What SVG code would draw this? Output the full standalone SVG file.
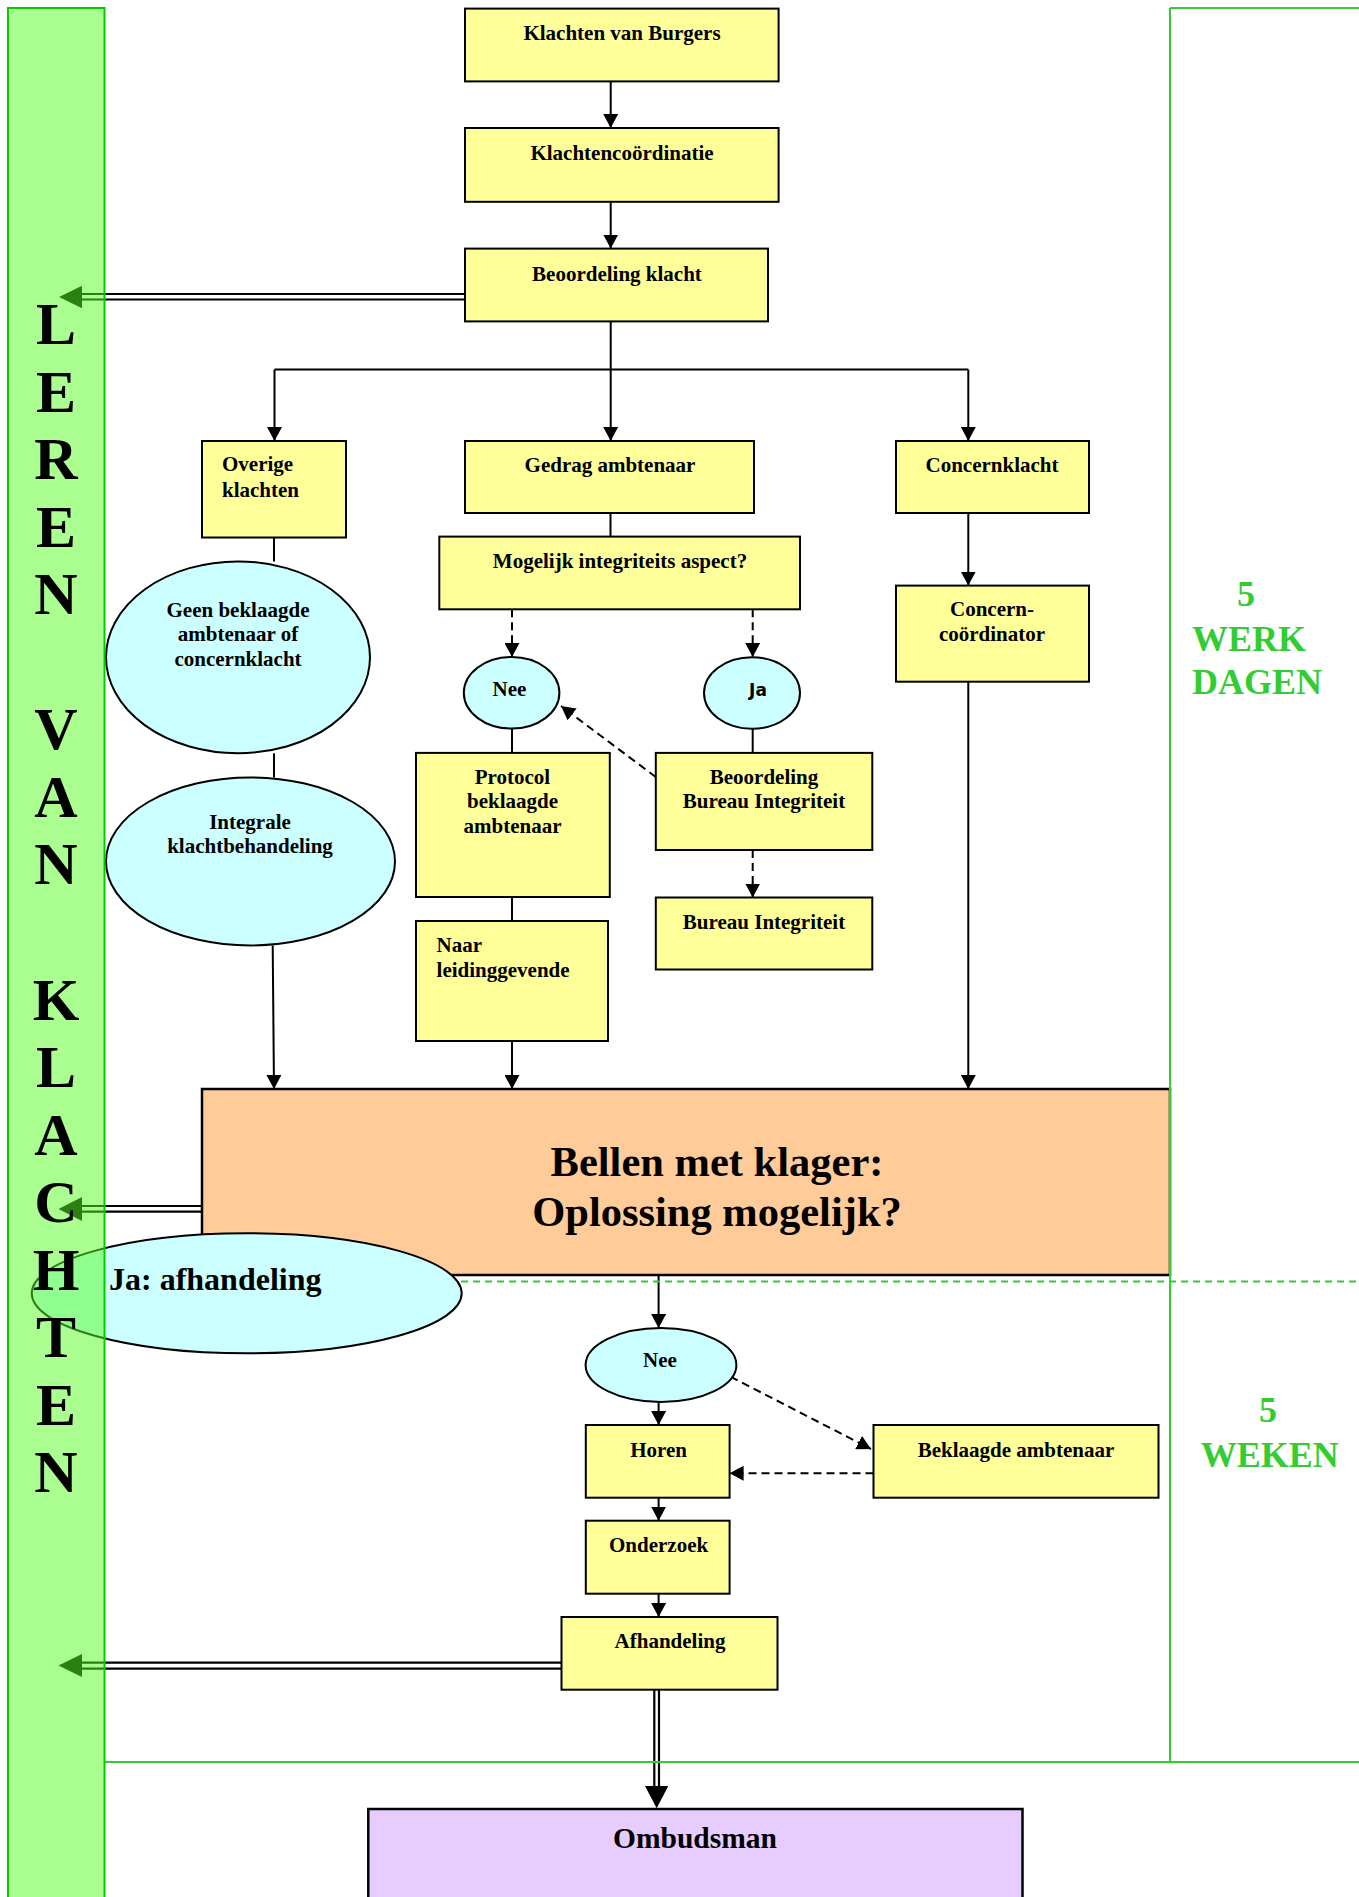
<svg xmlns="http://www.w3.org/2000/svg" width="1359" height="1897" viewBox="0 0 1359 1897">
<style>
.box{fill:#FFFF99;stroke:#000;stroke-width:2}
.ell{fill:#CCFFFF;stroke:#000;stroke-width:2}
.ln{fill:none;stroke:#000;stroke-width:2}
.dash{fill:none;stroke:#000;stroke-width:2;stroke-dasharray:8 5}
.dbl{fill:none;stroke:#000;stroke-width:2.2}
.t{font-family:"Liberation Serif","Times New Roman",serif;font-weight:bold;font-size:21px;fill:#000}
.c{text-anchor:middle}
.t38{font-size:42.5px}
.t32{font-size:32px}
.t28{font-size:29.5px}
.big{font-family:"Liberation Serif","Times New Roman",serif;font-weight:bold;font-size:60px;fill:#000;text-anchor:middle}
.grn{font-family:"Liberation Serif","Times New Roman",serif;font-weight:bold;font-size:36px;fill:#33CC33}
.frame{fill:none;stroke:#33CC33;stroke-width:2}
</style>
<defs>
<marker id="ah" markerUnits="userSpaceOnUse" markerWidth="15" markerHeight="15" refX="14" refY="7.5" orient="auto" viewBox="0 0 15 15"><path d="M0,0 L14,7.5 L0,15 z" fill="#000"/></marker>
</defs>
<rect width="1359" height="1897" fill="#fff"/>

<g id="connectors">
<path class="ln" d="M610.7,81.5 V128" marker-end="url(#ah)"/>
<path class="ln" d="M610.7,202 V248.6" marker-end="url(#ah)"/>
<path class="ln" d="M610.7,321.4 V441" marker-end="url(#ah)"/>
<path class="ln" d="M274.5,369.6 H968.3"/>
<path class="ln" d="M274.5,369.6 V441" marker-end="url(#ah)"/>
<path class="ln" d="M968.3,369.6 V441" marker-end="url(#ah)"/>
<path class="ln" d="M610.5,513 V536.6"/>
<path class="dash" d="M512,609.3 V657" marker-end="url(#ah)"/>
<path class="dash" d="M752.7,609.3 V657" marker-end="url(#ah)"/>
<path class="ln" d="M512,728.7 V752.9"/>
<path class="ln" d="M752.7,728.7 V752.9"/>
<path class="dash" d="M655.8,777 L561,706" marker-end="url(#ah)"/>
<path class="dash" d="M752.7,850 V897.5" marker-end="url(#ah)"/>
<path class="ln" d="M512,897 V921"/>
<path class="ln" d="M512,1041 V1089" marker-end="url(#ah)"/>
<path class="ln" d="M968.3,513 V585.6" marker-end="url(#ah)"/>
<path class="ln" d="M968.3,681.7 V1089" marker-end="url(#ah)"/>
<path class="ln" d="M274,537.5 V561.4"/>
<path class="ln" d="M274,753.2 V777.5"/>
<path class="ln" d="M272.7,945.4 L274,1089" marker-end="url(#ah)"/>
<path class="dbl" d="M465,294 H82 M465,299.5 H82"/>
<polygon points="59,297 82,285.7 82,308.3" fill="#000"/>
<path class="dbl" d="M202,1206 H82 M202,1211.7 H82"/>
<polygon points="58.5,1209 82,1197 82,1221" fill="#000"/>
<path class="dbl" d="M561.5,1662.7 H82 M561.5,1668.7 H82"/>
<polygon points="58.5,1665.5 82,1654 82,1677" fill="#000"/>
<path class="ln" d="M658.6,1275 V1328" marker-end="url(#ah)"/>
<path class="dash" d="M730.5,1376.7 L871,1449" marker-end="url(#ah)"/>
<path class="ln" d="M658.6,1401.7 V1425" marker-end="url(#ah)"/>
<path class="dash" d="M873.5,1473.3 H729.6" marker-end="url(#ah)"/>
<path class="ln" d="M658.6,1497.7 V1520.7" marker-end="url(#ah)"/>
<path class="ln" d="M658.6,1593.7 V1617" marker-end="url(#ah)"/>
<path class="dbl" d="M654.3,1690 V1787 M659,1690 V1787"/>
<polygon points="645,1786 668.3,1786 656.7,1808.3" fill="#000"/>
</g>

<g id="n-klachten"><rect class="box" x="465" y="8.6" width="313.6" height="72.8"/><text class="t c" x="622" y="40">Klachten van Burgers</text></g>
<g id="n-coord"><rect class="box" x="465" y="128" width="313.6" height="73.8"/><text class="t c" x="622" y="160">Klachtencoördinatie</text></g>
<g id="n-beoordeling"><rect class="box" x="465" y="248.6" width="303" height="72.8"/><text class="t c" x="617" y="281">Beoordeling klacht</text></g>
<g id="n-overige"><rect class="box" x="202" y="441" width="144" height="96.5"/><text class="t" x="222" y="471">Overige</text><text class="t" x="222" y="497">klachten</text></g>
<g id="n-gedrag"><rect class="box" x="465" y="441" width="289" height="72"/><text class="t c" x="610" y="472">Gedrag ambtenaar</text></g>
<g id="n-concern"><rect class="box" x="896" y="441" width="193" height="72"/><text class="t c" x="992" y="472">Concernklacht</text></g>
<g id="n-mogelijk"><rect class="box" x="439.3" y="536.6" width="360.7" height="72.7"/><text class="t c" x="620" y="568">Mogelijk integriteits aspect?</text></g>
<g id="n-nee1"><ellipse class="ell" cx="511.6" cy="692.8" rx="47.8" ry="35.8"/><text class="t c" x="509.5" y="696">Nee</text></g>
<g id="n-ja1"><ellipse class="ell" cx="752" cy="693" rx="48" ry="35.8"/><text x="758" y="696" text-anchor="middle" font-family="DejaVu Sans, sans-serif" font-weight="bold" font-size="17">Ja</text></g>
<g id="n-concerncoord"><rect class="box" x="896" y="585.6" width="193" height="96.1"/><text class="t c" x="992" y="616">Concern-</text><text class="t c" x="992" y="641">coördinator</text></g>
<g id="n-geen"><ellipse class="ell" cx="238" cy="657.3" rx="132" ry="95.9"/><text class="t c" x="238" y="617">Geen beklaagde</text><text class="t c" x="238" y="641">ambtenaar of</text><text class="t c" x="238" y="666">concernklacht</text></g>
<g id="n-protocol"><rect class="box" x="416" y="752.9" width="193.8" height="144.1"/><text class="t c" x="512.5" y="784">Protocol</text><text class="t c" x="512.5" y="808">beklaagde</text><text class="t c" x="512.5" y="832.5">ambtenaar</text></g>
<g id="n-beoordelingbi"><rect class="box" x="655.8" y="752.9" width="216.5" height="97.1"/><text class="t c" x="764" y="784">Beoordeling</text><text class="t c" x="764" y="808">Bureau Integriteit</text></g>
<g id="n-integrale"><ellipse class="ell" cx="250.5" cy="861.4" rx="144.5" ry="84"/><text class="t c" x="250" y="828.6">Integrale</text><text class="t c" x="250" y="853">klachtbehandeling</text></g>
<g id="n-bi"><rect class="box" x="655.8" y="897.5" width="216.5" height="72"/><text class="t c" x="764" y="929">Bureau Integriteit</text></g>
<g id="n-naar"><rect class="box" x="416" y="921" width="192" height="120"/><text class="t" x="436.6" y="952">Naar</text><text class="t" x="436.6" y="977">leidinggevende</text></g>
<g id="n-bellen"><rect x="202" y="1089" width="968" height="186" fill="#FFCC99" stroke="#000" stroke-width="2.5"/><text class="t t38 c" x="717" y="1176">Bellen met klager:</text><text class="t t38 c" x="717" y="1226">Oplossing mogelijk?</text></g>
<g id="n-ja2"><ellipse class="ell" cx="246.7" cy="1293.3" rx="215" ry="60"/><text class="t t32" x="109" y="1290">Ja: afhandeling</text></g>
<g id="n-nee2"><ellipse class="ell" cx="661" cy="1365" rx="75.4" ry="37"/><text class="t c" x="660" y="1367">Nee</text></g>
<g id="n-horen"><rect class="box" x="585.8" y="1425" width="143.8" height="72.7"/><text class="t c" x="658.6" y="1457">Horen</text></g>
<g id="n-beklaagde"><rect class="box" x="873.5" y="1425" width="285" height="72.7"/><text class="t c" x="1016" y="1457">Beklaagde ambtenaar</text></g>
<g id="n-onderzoek"><rect class="box" x="585.8" y="1520.7" width="143.8" height="73"/><text class="t c" x="658.6" y="1552">Onderzoek</text></g>
<g id="n-afhandeling"><rect class="box" x="561.5" y="1617" width="216" height="72.7"/><text class="t c" x="670" y="1648">Afhandeling</text></g>
<g id="n-ombudsman"><rect x="368.3" y="1809" width="654.2" height="90" fill="#E6CCFF" stroke="#000" stroke-width="2.5"/><text class="t t28 c" x="695" y="1848">Ombudsman</text></g>

<g id="frame">
<path class="frame" d="M1170,8 V1762 M1170,8 H1359"/>
<path class="frame" d="M104,1762 H1359" stroke-width="2.5"/>
<path d="M461,1281.5 H1359" fill="none" stroke="#33CC33" stroke-width="2" stroke-dasharray="7 5"/>
</g>

<g id="n-leren">
<rect x="8" y="8" width="96.5" height="1895" fill="rgb(85,255,33)" fill-opacity="0.5" stroke="#00CC00" stroke-width="2"/>
<text class="big" x="56" y="344">L</text>
<text class="big" x="56" y="411.5">E</text>
<text class="big" x="56" y="479.1">R</text>
<text class="big" x="56" y="546.6">E</text>
<text class="big" x="56" y="614.2">N</text>
<text class="big" x="56" y="749.3">V</text>
<text class="big" x="56" y="816.8">A</text>
<text class="big" x="56" y="884.4">N</text>
<text class="big" x="56" y="1019.5">K</text>
<text class="big" x="56" y="1087">L</text>
<text class="big" x="56" y="1154.6">A</text>
<text class="big" x="56" y="1222.1">C</text>
<text class="big" x="56" y="1289.7">H</text>
<text class="big" x="56" y="1357.2">T</text>
<text class="big" x="56" y="1424.8">E</text>
<text class="big" x="56" y="1492.4">N</text>
</g>

<g id="n-werkdagen">
<text class="grn" x="1246" y="606" text-anchor="middle">5</text>
<text class="grn" x="1192" y="651">WERK</text>
<text class="grn" x="1192" y="694">DAGEN</text>
</g>
<g id="n-weken">
<text class="grn" x="1268" y="1422" text-anchor="middle">5</text>
<text class="grn" x="1269.7" y="1467" text-anchor="middle">WEKEN</text>
</g>
</svg>
